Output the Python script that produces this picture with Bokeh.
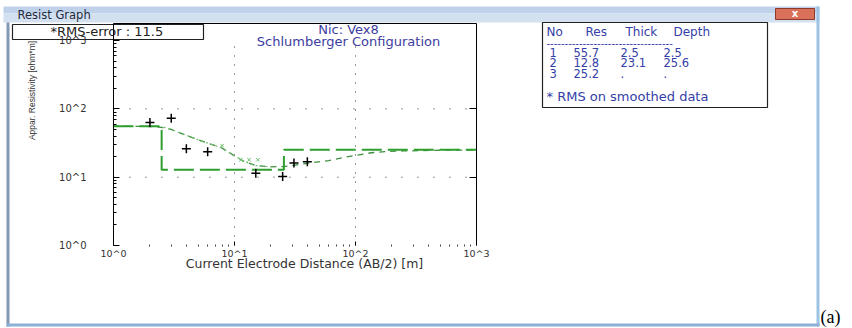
import math
from bokeh.plotting import figure
from bokeh.models import (FixedTicker, LogAxis, Label, BoxAnnotation,
                          CustomJSTickFormatter, Range1d, LogScale)
from bokeh.embed import file_html
from bokeh.resources import INLINE

# ---------------- data ----------------
layer_no = ["1", "2", "3"]
layer_res = [55.7, 12.8, 25.2]
layer_thick = [2.5, 23.1]
layer_depth = [2.5, 25.6]
rms_error = 11.5

obs_ab2 = [2.0, 3.0, 4.0, 6.0, 15.0, 25.0, 31.0, 40.0]
obs_rho = [63.0, 73.0, 26.0, 23.5, 11.4, 10.2, 16.2, 16.8]

smooth_pts_ab2 = [7.9, 11.3, 13.2, 15.6]
smooth_pts_rho = [29.0, 18.0, 18.0, 18.0]

smooth_ab2 = [2.6, 3.0, 4.0, 5.3, 7.8, 10.0, 12.0, 15.0, 19.0]
smooth_rho = [54.0, 50.0, 41.0, 34.0, 27.0, 20.5, 17.0, 14.8, 14.3]

calc_ab2 = [1, 1.5, 2, 2.5, 3, 4, 5.3, 7.8, 10, 12, 15, 20, 25, 30, 43, 60,
            87, 135, 175, 250, 500, 1000]
calc_rho = [55.7, 55.6, 55.2, 53.5, 50.0, 41.0, 34.0, 27.0, 20.5, 17.0, 14.8,
            14.2, 14.3, 14.8, 16.3, 17.5, 20.0, 22.8, 23.7, 24.2, 24.8, 25.1]

x_start, x_end = 1, 1000
y_start, y_end = 1, 10 ** 3.25
decade_ticks = [1, 10, 100, 1000]
grid_ticks = [10, 100]
tick_text = "return '10^' + Math.round(Math.log10(tick)).toString()"

x_title = "Current Electrode Distance (AB/2) [m]"
y_title = "Appar. Resistivity [ohm*m]"
chart_title_1 = "Nic: Vex8"
chart_title_2 = "Schlumberger Configuration"
window_title = "Resist Graph"
table_head = ["No", "Res", "Thick", "Depth"]
table_note = "* RMS on smoothed data"

# ---------------- layout (pixels of the picture) ----------------
W, H = 852, 328
PX0, PY0 = 0, 0
FX0, FX1, FY0, FY1 = 113, 476, 23, 245  # chart box edges

# log ranges extended so that the chart box lands at FX0..FX1 / FY0..FY1
lx0, lx1 = math.log10(x_start), math.log10(x_end)
ly0, ly1 = math.log10(y_start), math.log10(y_end)
kx = (lx1 - lx0) / (FX1 - FX0)
ky = (ly1 - ly0) / (FY1 - FY0)
ab2_range = Range1d(10 ** (lx0 - (FX0 - PX0) * kx), 10 ** (lx1 + (PX0 + W - FX1) * kx))
rho_range = Range1d(10 ** (ly0 - (PY0 + H - FY1) * ky), 10 ** (ly1 + (FY0 - PY0) * ky))

p = figure(width=W, height=H, x_axis_type=None, y_axis_type=None,
           x_range=Range1d(PX0, PX0 + W), y_range=Range1d(PY0 + H, PY0),
           output_backend="svg", toolbar_location=None, min_border=0,
           min_border_left=0, min_border_right=0, min_border_top=0,
           min_border_bottom=0, background_fill_color="white",
           border_fill_color="white", outline_line_color=None)
p.extra_x_ranges = {"ab2": ab2_range}
p.extra_x_scales = {"ab2": LogScale()}
p.extra_y_ranges = {"rho": rho_range}
p.extra_y_scales = {"rho": LogScale()}
R = dict(x_range_name="ab2", y_range_name="rho")

minor = [m * 10 ** k for k in range(0, 3) for m in range(2, 10)]
fmt = CustomJSTickFormatter(code=tick_text)

ya = LogAxis(ticker=FixedTicker(ticks=decade_ticks, minor_ticks=minor),
             formatter=fmt, fixed_location=x_start, bounds=(y_start, y_end),
             axis_line_color="black", major_tick_in=6, major_tick_out=0,
             minor_tick_in=3, minor_tick_out=0, major_label_standoff=27,
             major_label_text_font="DejaVu Sans",
             major_label_text_font_size="10px",
             major_label_text_color="#333333", **R)
p.add_layout(ya, "left")

xa = LogAxis(ticker=FixedTicker(ticks=decade_ticks, minor_ticks=minor),
             formatter=fmt, fixed_location=y_start, bounds=(x_start, x_end),
             axis_line_color=None, major_tick_in=4, major_tick_out=0,
             minor_tick_in=1, minor_tick_out=1, minor_tick_line_color="#444444",
             major_label_standoff=1, major_label_text_font="DejaVu Sans",
             major_label_text_font_size="9.5px",
             major_label_text_color="#333333", **R)
p.add_layout(xa, "below")

ra = LogAxis(ticker=FixedTicker(ticks=grid_ticks, minor_ticks=[]),
             formatter=fmt, fixed_location=x_end, bounds=(y_start, y_end),
             axis_line_color="black", major_tick_in=7, major_tick_out=0,
             minor_tick_in=0, minor_tick_out=0,
             major_label_text_font_size="1px", major_label_text_color=None,
             major_label_standoff=0, **R)
p.add_layout(ra, "right")

ta = LogAxis(ticker=FixedTicker(ticks=grid_ticks, minor_ticks=[]),
             formatter=fmt, fixed_location=y_end, bounds=(x_start, x_end),
             axis_line_color="black", major_tick_in=0, major_tick_out=0,
             minor_tick_in=0, minor_tick_out=0,
             major_label_text_font_size="1px", major_label_text_color=None,
             major_label_standoff=0, **R)
p.add_layout(ta, "above")

# dotted grid at the inner decades
n = len(grid_ticks)
p.segment(x0=grid_ticks, x1=grid_ticks, y0=[y_start] * n, y1=[decade_ticks[-1]] * n,
          line_color="#333333", line_width=1, line_dash="1 8", **R)
p.segment(x0=[x_start] * n, x1=[x_end] * n, y0=grid_ticks, y1=grid_ticks,
          line_color="#333333", line_width=1, line_dash="1 15", **R)

# model (step) curve built from the layer table
mx, my = [x_start], [layer_res[0]]
for i, d in enumerate(layer_depth):
    mx += [d, d]
    my += [layer_res[i], layer_res[i + 1]]
mx.append(x_end)
my.append(layer_res[-1])

p.line(calc_ab2, calc_rho, line_color="#3f8f3f", line_width=1.3, line_dash="6 5", **R)
p.line(smooth_ab2, smooth_rho, line_color="#72c072", line_width=1.2, line_dash="2 3", **R)
p.line(mx, my, line_color="#2e9e2e", line_width=2, line_dash="20 6", **R)
p.scatter(smooth_pts_ab2, smooth_pts_rho, marker="x", size=5,
          line_color="#6cc06c", line_width=1, **R)
p.scatter(obs_ab2, obs_rho, marker="cross", size=9, line_color="black",
          line_width=1.5, **R)


# ---------------- window chrome (picture pixel coords) ----------------
def lab(text, px, py, size, color="#222222", align="left", baseline="middle",
        font="DejaVu Sans", angle=0.0, style="normal"):
    p.add_layout(Label(x=px, y=py, text=text, text_font=font,
                       text_font_size=f"{size}px", text_color=color,
                       text_align=align, text_baseline=baseline, angle=angle,
                       text_font_style=style))


def box(l, t, r, b, fill=None, line=None, lw=1):
    p.add_layout(BoxAnnotation(left=l, right=r, top=t, bottom=b,
                               fill_color=fill if fill else "white",
                               fill_alpha=1.0 if fill else 0.0,
                               line_color=line if line else "white",
                               line_alpha=1.0 if line else 0.0,
                               line_width=lw, level="underlay"))


# title bar
box(3, 6, 819, 13, fill="#bfd2ea")
box(3, 13, 819, 22, fill="#d3e0f0")
lab(window_title, 17, 14, 11.5, color="#1e2a40")
box(775, 8, 814, 19, fill="#d8705a", line="#8e3a2a")
lab("x", 794.5, 13, 10, color="white", align="center", style="bold")
# window borders
box(6, 22, 9, 326, fill="#8497b3")
box(816, 6, 819, 326, fill="#9cc3e6")
box(6, 323, 819, 326, fill="#8fb0d6")

# RMS box
box(12, 24, 203, 39, line="#222222", lw=1.2)
lab(f"*RMS-error  :  {rms_error}", 50, 31, 13, color="#222222")

# chart titles
lab(chart_title_1, 348, 29, 13, color="#3c3ca0", align="center")
lab(chart_title_2, 348, 41, 13, color="#3c3ca0", align="center")

# axis titles
lab(x_title, 304, 263, 12.5, color="#333333", align="center")
lab(y_title, 31, 90, 8.5, color="#333333", align="center",
    font="Liberation Sans", angle=math.pi / 2)

# layer table
blue = "#3440a8"
box(542, 22, 767, 107, fill="white", line="#222222", lw=1.2)
head_x = [546, 585, 625, 673]
for t, hx in zip(table_head, head_x):
    lab(t, hx, 31, 12, color=blue)
lab("-" * 35, 546, 42, 10, color=blue)
row_y = [52, 62, 73]
no_x, res_x, thick_x, depth_x = 549, 573, 620, 663
for i, nn in enumerate(layer_no):
    lab(nn, no_x, row_y[i], 11.5, color=blue)
    lab(f"{layer_res[i]}", res_x, row_y[i], 11.5, color=blue)
    th = f"{layer_thick[i]}" if i < len(layer_thick) else "   ."
    dp = f"{layer_depth[i]}" if i < len(layer_depth) else "."
    lab(th, thick_x, row_y[i], 11.5, color=blue)
    lab(dp, depth_x, row_y[i], 11.5, color=blue)
lab(table_note, 546, 96, 13, color=blue)

# figure caption
lab("(a)", 820, 326, 18, color="black", baseline="bottom",
    font="Liberation Serif")

open("out.html", "w").write(file_html(p, INLINE))
